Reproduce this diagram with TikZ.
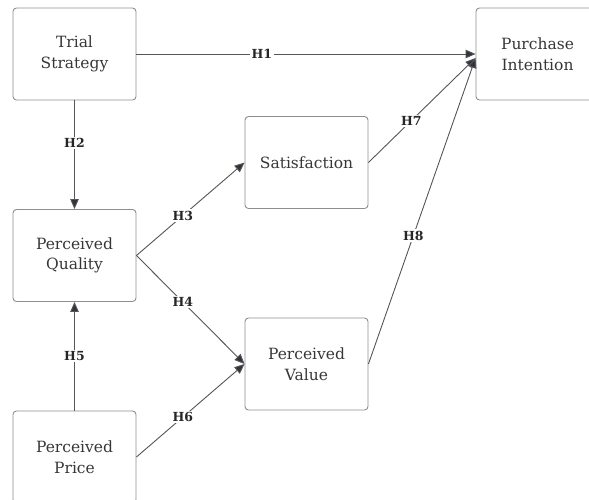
\documentclass[tikz,border=0pt]{standalone}
\usepackage{fontspec}
\setmainfont{DejaVu Serif}
\usetikzlibrary{arrows.meta}
\definecolor{boxline}{HTML}{8E8E8E}
\definecolor{txt}{HTML}{363636}
\definecolor{edge}{HTML}{555555}
\definecolor{tip}{HTML}{2F3540}
\tikzset{
  concept/.style={draw=boxline, line width=0.9pt, rounded corners=3.5pt, minimum width=123pt, minimum height=92pt, align=center, text=txt, font=\fontsize{15.5}{20.5}\selectfont, inner sep=0pt},
  link/.style={draw=edge, line width=0.9pt, -{Triangle[length=10pt,width=8.5pt,fill=tip]}},
  hyp/.style={fill=white, inner sep=1.5pt, text=black!85, font=\bfseries\fontsize{12.5}{14}\selectfont}
}
\begin{document}
\begin{tikzpicture}[x=1pt,y=-1pt]
\useasboundingbox (0,0) rectangle (589,499);
\clip (0,0) rectangle (589,499);
\node[concept] (trial) at (74.5,54) {Trial\\Strategy};
\node[concept] (purch) at (537.5,54) {Purchase\\Intention};
\node[concept] (sat) at (306.5,162.5) {Satisfaction};
\node[concept] (pq) at (74.5,255.5) {Perceived\\Quality};
\node[concept] (pv) at (306.5,364) {Perceived\\Value};
\node[concept] (pp) at (74.5,457) {Perceived\\Price};
\coordinate (pin) at ([yshift=-4pt]purch.west);
\draw[link] (trial.east) -- node[hyp, pos=0.37] {H1} (purch.west);
\draw[link] (trial.south) -- node[hyp, pos=0.39] {H2} (pq.north);
\draw[link] (pq.east) -- node[hyp, pos=0.43] {H3} (sat.west);
\draw[link] (pq.east) -- node[hyp, pos=0.43] {H4} (pv.west);
\draw[link] (pp.north) -- node[hyp, pos=0.5] {H5} (pq.south);
\draw[link] (pp.east) -- node[hyp, pos=0.43] {H6} (pv.west);
\draw[link] (sat.east) -- node[hyp, pos=0.4] {H7} (pin);
\draw[link] (pv.east) -- node[hyp, pos=0.42] {H8} (pin);
\end{tikzpicture}
\end{document}
